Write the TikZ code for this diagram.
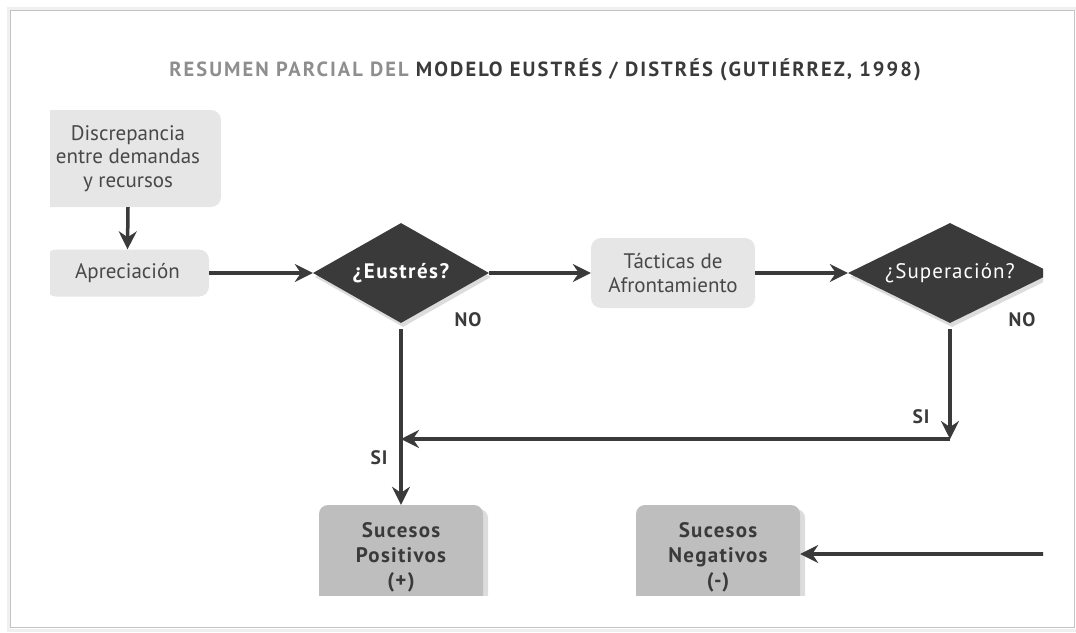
\documentclass[tikz,border=0pt]{standalone}
\usepackage{fontspec}
\setmainfont{PT Sans}
\usetikzlibrary{arrows.meta,shapes.geometric,shadows}
\definecolor{dark}{HTML}{3A3A3A}
\definecolor{txt}{HTML}{484848}
\definecolor{lightbox}{HTML}{E6E6E6}
\definecolor{midbox}{HTML}{BEBEBE}
\definecolor{shade}{HTML}{DCDCDC}
\definecolor{titlegray}{HTML}{8E8E8E}
\definecolor{framec}{HTML}{C4C4C4}
\tikzset{
  lbox/.style={fill=lightbox, rounded corners=10pt, inner sep=0pt, text=txt,
    align=center, font=\fontsize{21}{23.5}\selectfont},
  dbox/.style={fill=midbox, rounded corners=9pt, inner sep=0pt, text=dark,
    align=center, font=\fontsize{21}{25}\selectfont\bfseries\addfontfeatures{LetterSpace=6},
    copy shadow={shadow xshift=5pt, shadow yshift=-4pt, fill=shade, draw=none, opacity=1}},
  dia/.style={diamond, fill=dark, aspect=2, inner sep=0pt, text=white,
    copy shadow={shadow xshift=2pt, shadow yshift=-4pt, fill=shade, draw=none, opacity=1}},
  arr/.style={draw=dark, line width=3.5pt, -{Stealth[length=18pt,width=18pt,inset=6pt]}},
  lab/.style={text=dark, font=\fontsize{19.5}{20}\selectfont\bfseries\addfontfeatures{LetterSpace=5}, inner sep=0pt}
}
\begin{document}
\begin{tikzpicture}[x=1pt,y=-1pt]
\useasboundingbox (0,0) rectangle (1076,632);
% frame
\draw[draw=black!6, line width=3pt] (8,8) rectangle (1077,630);
\draw[draw=framec, line width=1.8pt] (10.5,10.5) rectangle (1074.5,627.5);
% title
\node[inner sep=0pt, font=\fontsize{20.5}{22}\selectfont\bfseries\addfontfeatures{LetterSpace=10}] (title) at (545,70)
  {{\color{titlegray}RESUMEN PARCIAL DEL} {\color{dark}MODELO EUSTRÉS / DISTRÉS (GUTIÉRREZ, 1998)}};
\begin{scope}
\clip (50,95) rectangle (1043,595);
\node[lbox, minimum width=186pt, minimum height=97pt] (disc) at (128,158.5)
  {Discrepancia\\entre demandas\\y recursos};
\node[lbox, minimum width=163pt, minimum height=47pt] (apre) at (127.5,273) {Apreciación};
\node[dia, minimum width=176pt, minimum height=100pt, font=\fontsize{21}{22}\selectfont\bfseries\addfontfeatures{LetterSpace=7}] (eus) at (401,273) {¿Eustrés?};
\node[lbox, minimum width=164pt, minimum height=70pt] (tac) at (673,273) {Tácticas de\\Afrontamiento};
\node[dia, minimum width=204pt, minimum height=100pt, font=\fontsize{21}{22}\selectfont\addfontfeatures{LetterSpace=5}] (sup) at (950,273) {¿Superación?};
\node[dbox, minimum width=164pt, minimum height=104pt] (pos) at (401,557) {Sucesos\\Positivos\\(+)};
\node[dbox, minimum width=164pt, minimum height=104pt] (neg) at (718,557) {Sucesos\\Negativos\\(-)};
\coordinate (j1) at (950,439);
\coordinate (j2) at (401,439);
\coordinate (negin) at (1060,554);
\draw[arr] (disc.south) -- (apre.north);
\draw[arr] (apre.east) -- (eus.west);
\draw[arr] (eus.east) -- (tac.west);
\draw[arr] (tac.east) -- (sup.west);
\draw[arr] ([yshift=-6pt]eus.south) -- (pos.north);
\draw[arr] ([yshift=-6pt]sup.south) -- (j1);
\draw[arr] (j1) -- (j2);
\draw[arr] (negin) -- (neg.east |- negin);
\node[lab] (no1) at (468,320) {NO};
\node[lab] (no2) at (1022,320) {NO};
\node[lab] (si1) at (921,417) {SI};
\node[lab] (si2) at (379,458) {SI};
\end{scope}
\end{tikzpicture}
\end{document}
